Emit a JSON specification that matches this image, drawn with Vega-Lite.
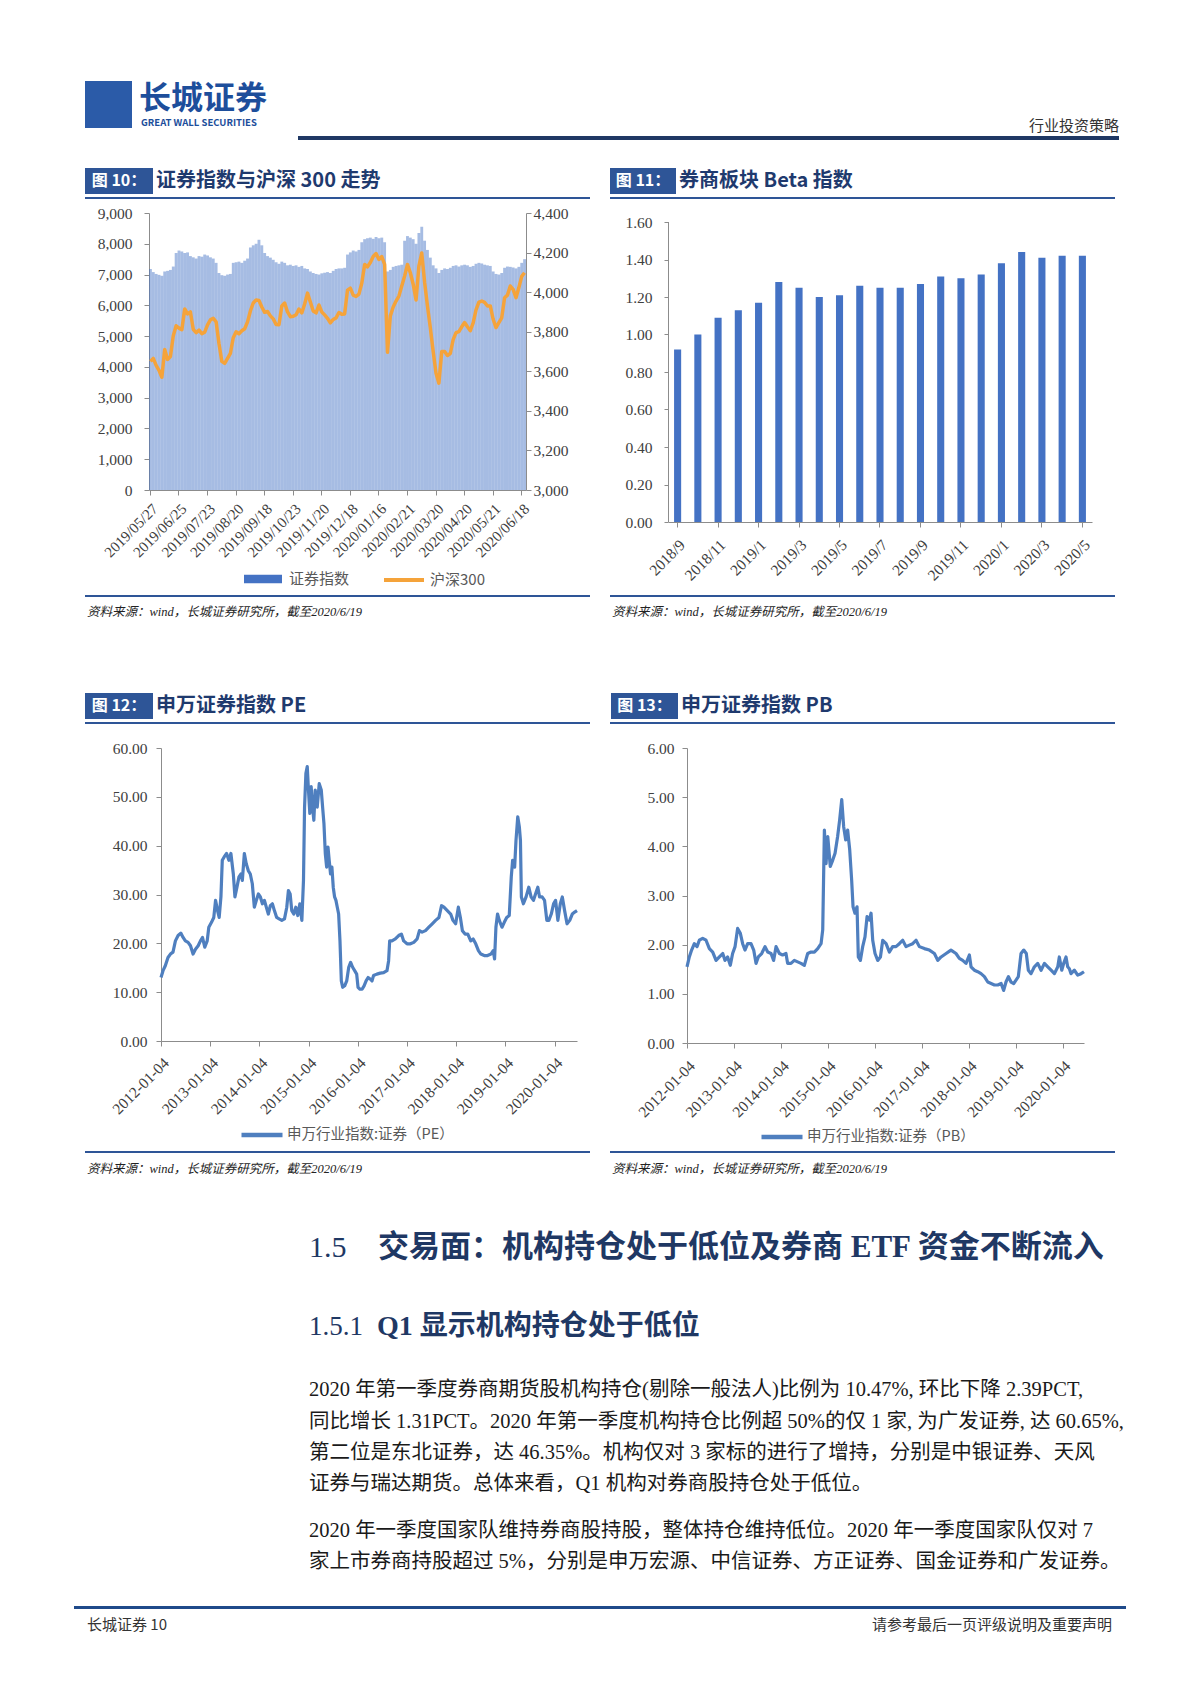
{
"$schema": "https://vega.github.io/schema/vega-lite/v6.json",
"background": "white",
"padding": {"left": 74, "top": 81, "right": 0, "bottom": 0},
"spacing": 0,
"resolve": {"scale": {"fill": "independent", "stroke": "independent"}, "legend": {"fill": "independent", "stroke": "independent"}},
"config": {
  "view": {"stroke": null},
  "concat": {"spacing": 0},
  "axis": {"labelFont": "Liberation Serif", "labelFontSize": 15.5, "labelColor": "#404040", "domainColor": "#8c8c8c", "tickColor": "#8c8c8c", "grid": false, "tickSize": 5, "labelOverlap": false},
  "legend": {"labelFont": "Noto Sans CJK SC", "labelFontSize": 15, "labelColor": "#595959", "padding": 0, "labelLimit": 400},
  "text": {"font": "Noto Sans CJK SC"}
},
"datasets": {
  "c10": [
    {"t":0,"sec":7180,"hs":3650},{"t":2,"sec":7080,"hs":3665},{"t":4,"sec":7020,"hs":3630},{"t":6,"sec":6990,"hs":3605},{"t":8,"sec":6960,"hs":3570},
    {"t":10,"sec":7100,"hs":3710},{"t":12,"sec":7120,"hs":3660},{"t":14,"sec":7150,"hs":3675},{"t":16,"sec":7260,"hs":3780},{"t":18,"sec":7700,"hs":3830},
    {"t":20,"sec":7780,"hs":3818},{"t":22,"sec":7750,"hs":3810},{"t":24,"sec":7700,"hs":3915},{"t":26,"sec":7720,"hs":3890},{"t":28,"sec":7600,"hs":3900},
    {"t":30,"sec":7560,"hs":3812},{"t":32,"sec":7520,"hs":3795},{"t":34,"sec":7600,"hs":3808},{"t":36,"sec":7580,"hs":3790},{"t":38,"sec":7650,"hs":3798},
    {"t":40,"sec":7620,"hs":3835},{"t":42,"sec":7560,"hs":3860},{"t":44,"sec":7520,"hs":3868},{"t":46,"sec":7380,"hs":3850},{"t":48,"sec":7050,"hs":3740},
    {"t":50,"sec":6980,"hs":3650},{"t":52,"sec":6960,"hs":3640},{"t":54,"sec":7000,"hs":3665},{"t":56,"sec":7020,"hs":3690},{"t":58,"sec":7380,"hs":3770},
    {"t":60,"sec":7400,"hs":3800},{"t":62,"sec":7420,"hs":3790},{"t":64,"sec":7380,"hs":3805},{"t":66,"sec":7450,"hs":3815},{"t":68,"sec":7520,"hs":3850},
    {"t":70,"sec":7880,"hs":3905},{"t":72,"sec":7950,"hs":3945},{"t":74,"sec":8000,"hs":3960},{"t":76,"sec":8130,"hs":3958},{"t":78,"sec":7950,"hs":3925},
    {"t":80,"sec":7700,"hs":3898},{"t":82,"sec":7600,"hs":3902},{"t":84,"sec":7550,"hs":3880},{"t":86,"sec":7480,"hs":3865},{"t":88,"sec":7400,"hs":3836},
    {"t":90,"sec":7350,"hs":3835},{"t":92,"sec":7420,"hs":3930},{"t":94,"sec":7380,"hs":3945},{"t":96,"sec":7300,"hs":3900},{"t":98,"sec":7320,"hs":3876},
    {"t":100,"sec":7280,"hs":3878},{"t":102,"sec":7300,"hs":3886},{"t":104,"sec":7250,"hs":3915},{"t":106,"sec":7280,"hs":3895},{"t":108,"sec":7200,"hs":3940},
    {"t":110,"sec":7180,"hs":3995},{"t":112,"sec":7100,"hs":3950},{"t":114,"sec":7050,"hs":3905},{"t":116,"sec":7020,"hs":3895},{"t":118,"sec":7000,"hs":3935},
    {"t":120,"sec":7040,"hs":3900},{"t":122,"sec":7060,"hs":3885},{"t":124,"sec":7080,"hs":3868},{"t":126,"sec":7050,"hs":3845},{"t":128,"sec":7120,"hs":3862},
    {"t":130,"sec":7180,"hs":3870},{"t":132,"sec":7200,"hs":3897},{"t":134,"sec":7200,"hs":3888},{"t":136,"sec":7220,"hs":3890},{"t":138,"sec":7650,"hs":4010},
    {"t":140,"sec":7720,"hs":4020},{"t":142,"sec":7780,"hs":3985},{"t":144,"sec":7750,"hs":3978},{"t":146,"sec":7800,"hs":3990},{"t":148,"sec":8050,"hs":4045},
    {"t":150,"sec":8150,"hs":4140},{"t":152,"sec":8180,"hs":4128},{"t":154,"sec":8200,"hs":4150},{"t":156,"sec":8160,"hs":4180},{"t":158,"sec":8220,"hs":4195},
    {"t":160,"sec":8180,"hs":4165},{"t":162,"sec":8200,"hs":4180},{"t":164,"sec":8050,"hs":4140},{"t":166,"sec":7100,"hs":3696},{"t":168,"sec":7150,"hs":3880},
    {"t":170,"sec":7250,"hs":3925},{"t":172,"sec":7280,"hs":3955},{"t":174,"sec":7300,"hs":3980},{"t":176,"sec":7320,"hs":4031},{"t":178,"sec":8100,"hs":4081},
    {"t":180,"sec":8250,"hs":4140},{"t":182,"sec":8200,"hs":4098},{"t":184,"sec":8150,"hs":4040},{"t":186,"sec":8000,"hs":3960},{"t":188,"sec":8350,"hs":4131},
    {"t":190,"sec":8550,"hs":4198},{"t":192,"sec":8100,"hs":4050},{"t":194,"sec":7800,"hs":3930},{"t":196,"sec":7550,"hs":3820},{"t":198,"sec":7300,"hs":3700},
    {"t":200,"sec":7200,"hs":3590},{"t":202,"sec":7050,"hs":3540},{"t":204,"sec":7150,"hs":3700},{"t":206,"sec":7200,"hs":3700},{"t":208,"sec":7180,"hs":3680},
    {"t":210,"sec":7220,"hs":3690},{"t":212,"sec":7280,"hs":3760},{"t":214,"sec":7300,"hs":3795},{"t":216,"sec":7260,"hs":3800},{"t":218,"sec":7300,"hs":3825},
    {"t":220,"sec":7320,"hs":3846},{"t":222,"sec":7300,"hs":3825},{"t":224,"sec":7250,"hs":3805},{"t":226,"sec":7280,"hs":3845},{"t":228,"sec":7350,"hs":3910},
    {"t":230,"sec":7380,"hs":3950},{"t":232,"sec":7360,"hs":3955},{"t":234,"sec":7320,"hs":3948},{"t":236,"sec":7300,"hs":3930},{"t":238,"sec":7280,"hs":3930},
    {"t":240,"sec":7100,"hs":3863},{"t":242,"sec":7020,"hs":3821},{"t":244,"sec":7000,"hs":3846},{"t":246,"sec":7050,"hs":3870},{"t":248,"sec":7220,"hs":3972},
    {"t":250,"sec":7260,"hs":3985},{"t":252,"sec":7250,"hs":4031},{"t":254,"sec":7230,"hs":4014},{"t":256,"sec":7200,"hs":3972},{"t":258,"sec":7250,"hs":4023},
    {"t":260,"sec":7380,"hs":4080},{"t":261,"sec":7500,"hs":4098}
  ],
  "c11": [
    {"m":"2018/9","beta":0.92},{"m":"2018/10","beta":1.00},{"m":"2018/11","beta":1.09},{"m":"2018/12","beta":1.13},
    {"m":"2019/1","beta":1.17},{"m":"2019/2","beta":1.28},{"m":"2019/3","beta":1.25},{"m":"2019/4","beta":1.20},
    {"m":"2019/5","beta":1.21},{"m":"2019/6","beta":1.26},{"m":"2019/7","beta":1.25},{"m":"2019/8","beta":1.25},
    {"m":"2019/9","beta":1.27},{"m":"2019/10","beta":1.31},{"m":"2019/11","beta":1.30},{"m":"2019/12","beta":1.32},
    {"m":"2020/1","beta":1.38},{"m":"2020/2","beta":1.44},{"m":"2020/3","beta":1.41},{"m":"2020/4","beta":1.42},{"m":"2020/5","beta":1.42}
  ],
  "pe": [
    {"d":"2012-01-04","pe":13.0},{"d":"2012-01-19","pe":14.4},{"d":"2012-02-05","pe":15.4},{"d":"2012-02-25","pe":17.1},{"d":"2012-03-14","pe":17.8},{"d":"2012-04-02","pe":18.2},{"d":"2012-04-20","pe":20.5},{"d":"2012-05-10","pe":21.6},{"d":"2012-05-30","pe":22.1},{"d":"2012-06-16","pe":21.2},{"d":"2012-07-03","pe":20.5},{"d":"2012-07-23","pe":20.2},{"d":"2012-08-10","pe":19.5},{"d":"2012-08-29","pe":17.8},{"d":"2012-09-16","pe":18.8},{"d":"2012-10-06","pe":19.5},{"d":"2012-10-23","pe":20.5},{"d":"2012-11-07","pe":21.2},{"d":"2012-11-24","pe":19.2},{"d":"2012-12-12","pe":20.5},{"d":"2012-12-24","pe":23.3},
    {"d":"2013-01-13","pe":24.3},{"d":"2013-01-30","pe":25.3},{"d":"2013-02-12","pe":28.8},{"d":"2013-02-27","pe":26.7},{"d":"2013-03-11","pe":25.3},{"d":"2013-03-24","pe":29.5},{"d":"2013-04-03","pe":37.0},{"d":"2013-04-17","pe":37.7},{"d":"2013-05-05","pe":38.4},{"d":"2013-05-22","pe":37.0},{"d":"2013-06-06","pe":38.4},{"d":"2013-06-24","pe":34.2},{"d":"2013-07-06","pe":29.5},{"d":"2013-07-21","pe":31.5},{"d":"2013-08-05","pe":33.6},{"d":"2013-08-20","pe":34.2},{"d":"2013-08-30","pe":32.9},{"d":"2013-09-14","pe":38.4},{"d":"2013-09-28","pe":36.3},{"d":"2013-10-13","pe":34.9},{"d":"2013-10-28","pe":34.2},{"d":"2013-11-12","pe":32.2},{"d":"2013-11-27","pe":27.4},{"d":"2013-12-12","pe":28.8},{"d":"2013-12-27","pe":30.1},
    {"d":"2014-01-11","pe":29.5},{"d":"2014-01-26","pe":28.1},{"d":"2014-02-10","pe":28.8},{"d":"2014-02-24","pe":27.4},{"d":"2014-03-11","pe":26.0},{"d":"2014-03-26","pe":27.7},{"d":"2014-04-10","pe":28.1},{"d":"2014-04-25","pe":26.7},{"d":"2014-05-12","pe":25.3},{"d":"2014-05-30","pe":25.0},{"d":"2014-06-19","pe":24.7},{"d":"2014-07-09","pe":25.0},{"d":"2014-07-26","pe":27.4},{"d":"2014-08-07","pe":30.8},{"d":"2014-08-20","pe":30.1},{"d":"2014-09-01","pe":26.7},{"d":"2014-09-16","pe":26.0},{"d":"2014-10-01","pe":27.4},{"d":"2014-10-16","pe":25.7},{"d":"2014-10-31","pe":28.1},{"d":"2014-11-15","pe":24.7},{"d":"2014-11-27","pe":32.9},{"d":"2014-12-05","pe":47.9},{"d":"2014-12-15","pe":54.8},{"d":"2014-12-25","pe":56.2},
    {"d":"2015-01-03","pe":51.4},{"d":"2015-01-13","pe":46.6},{"d":"2015-01-23","pe":52.1},{"d":"2015-02-02","pe":47.9},{"d":"2015-02-12","pe":45.2},{"d":"2015-02-22","pe":51.4},{"d":"2015-03-09","pe":47.9},{"d":"2015-03-24","pe":52.7},{"d":"2015-04-08","pe":51.4},{"d":"2015-04-18","pe":47.9},{"d":"2015-04-28","pe":44.5},{"d":"2015-05-08","pe":38.4},{"d":"2015-05-18","pe":35.6},{"d":"2015-05-28","pe":39.7},{"d":"2015-06-06","pe":37.0},{"d":"2015-06-16","pe":34.2},{"d":"2015-06-26","pe":35.6},{"d":"2015-07-06","pe":31.5},{"d":"2015-07-16","pe":29.5},{"d":"2015-07-26","pe":28.8},{"d":"2015-08-05","pe":27.4},{"d":"2015-08-15","pe":26.0},{"d":"2015-08-25","pe":20.5},{"d":"2015-09-04","pe":12.3},{"d":"2015-09-14","pe":11.0},{"d":"2015-09-29","pe":11.3},{"d":"2015-10-14","pe":12.3},{"d":"2015-10-29","pe":15.1},{"d":"2015-11-12","pe":16.1},{"d":"2015-11-27","pe":15.1},{"d":"2015-12-12","pe":14.4},{"d":"2015-12-27","pe":13.7},
    {"d":"2016-01-06","pe":11.0},{"d":"2016-01-21","pe":10.6},{"d":"2016-02-05","pe":10.6},{"d":"2016-02-20","pe":11.3},{"d":"2016-03-06","pe":12.3},{"d":"2016-03-21","pe":13.0},{"d":"2016-04-05","pe":12.7},{"d":"2016-04-19","pe":12.3},{"d":"2016-04-30","pe":13.4},{"d":"2016-05-25","pe":13.7},{"d":"2016-06-19","pe":13.9},{"d":"2016-07-14","pe":14.0},{"d":"2016-08-08","pe":14.4},{"d":"2016-08-20","pe":16.4},{"d":"2016-08-28","pe":20.5},{"d":"2016-09-14","pe":20.5},{"d":"2016-10-09","pe":20.9},{"d":"2016-11-03","pe":21.6},{"d":"2016-11-23","pe":21.9},{"d":"2016-12-10","pe":20.5},
    {"d":"2017-01-04","pe":19.9},{"d":"2017-01-29","pe":19.9},{"d":"2017-02-23","pe":20.2},{"d":"2017-03-20","pe":20.9},{"d":"2017-04-06","pe":22.6},{"d":"2017-04-26","pe":22.3},{"d":"2017-05-21","pe":22.6},{"d":"2017-06-15","pe":23.3},{"d":"2017-07-10","pe":24.0},{"d":"2017-08-04","pe":24.7},{"d":"2017-08-29","pe":25.3},{"d":"2017-09-17","pe":27.7},{"d":"2017-10-05","pe":27.4},{"d":"2017-10-30","pe":26.7},{"d":"2017-11-24","pe":26.0},{"d":"2017-12-11","pe":24.7},{"d":"2017-12-31","pe":24.0},
    {"d":"2018-01-20","pe":27.4},{"d":"2018-02-04","pe":25.3},{"d":"2018-02-19","pe":22.6},{"d":"2018-03-11","pe":21.9},{"d":"2018-03-31","pe":21.9},{"d":"2018-04-22","pe":20.5},{"d":"2018-05-10","pe":20.9},{"d":"2018-05-29","pe":19.9},{"d":"2018-06-18","pe":18.5},{"d":"2018-07-06","pe":17.8},{"d":"2018-07-31","pe":17.5},{"d":"2018-08-25","pe":17.5},{"d":"2018-09-19","pe":17.8},{"d":"2018-10-06","pe":18.5},{"d":"2018-10-16","pe":16.8},{"d":"2018-10-26","pe":23.3},{"d":"2018-11-07","pe":26.0},{"d":"2018-11-20","pe":24.7},{"d":"2018-12-10","pe":23.3},{"d":"2018-12-27","pe":24.3},
    {"d":"2019-01-14","pe":25.3},{"d":"2019-02-02","pe":25.7},{"d":"2019-02-17","pe":33.6},{"d":"2019-02-27","pe":37.0},{"d":"2019-03-14","pe":35.6},{"d":"2019-03-24","pe":41.1},{"d":"2019-04-06","pe":45.9},{"d":"2019-04-18","pe":43.8},{"d":"2019-04-26","pe":41.1},{"d":"2019-05-03","pe":29.5},{"d":"2019-05-18","pe":28.1},{"d":"2019-06-07","pe":29.5},{"d":"2019-06-27","pe":31.5},{"d":"2019-07-14","pe":29.5},{"d":"2019-08-01","pe":28.8},{"d":"2019-08-16","pe":30.1},{"d":"2019-09-02","pe":31.5},{"d":"2019-09-15","pe":29.5},{"d":"2019-10-04","pe":29.5},{"d":"2019-10-22","pe":28.8},{"d":"2019-11-08","pe":24.7},{"d":"2019-11-23","pe":24.7},{"d":"2019-12-11","pe":26.0},{"d":"2019-12-28","pe":28.1},
    {"d":"2020-01-12","pe":28.8},{"d":"2020-01-29","pe":24.7},{"d":"2020-02-16","pe":28.1},{"d":"2020-03-02","pe":29.5},{"d":"2020-03-19","pe":26.7},{"d":"2020-04-06","pe":24.0},{"d":"2020-04-26","pe":24.7},{"d":"2020-05-15","pe":26.0},{"d":"2020-06-02","pe":26.4},{"d":"2020-06-19","pe":26.7}
  ],
  "pb": [
    {"d":"2012-01-04","pb":1.55},{"d":"2012-01-22","pb":1.75},{"d":"2012-02-09","pb":1.89},{"d":"2012-03-01","pb":2.02},{"d":"2012-03-22","pb":1.96},{"d":"2012-04-09","pb":2.09},{"d":"2012-05-05","pb":2.13},{"d":"2012-05-31","pb":2.09},{"d":"2012-06-26","pb":1.92},{"d":"2012-07-22","pb":1.85},{"d":"2012-08-17","pb":1.68},{"d":"2012-09-12","pb":1.75},{"d":"2012-10-08","pb":1.82},{"d":"2012-10-26","pb":1.68},{"d":"2012-11-15","pb":1.75},{"d":"2012-12-06","pb":1.58},{"d":"2012-12-24","pb":1.82},
    {"d":"2013-01-12","pb":1.96},{"d":"2013-02-01","pb":2.33},{"d":"2013-02-22","pb":2.23},{"d":"2013-03-12","pb":2.02},{"d":"2013-03-30","pb":1.89},{"d":"2013-04-20","pb":2.02},{"d":"2013-05-16","pb":2.02},{"d":"2013-06-06","pb":1.89},{"d":"2013-06-24","pb":1.62},{"d":"2013-07-12","pb":1.75},{"d":"2013-08-07","pb":1.82},{"d":"2013-09-02","pb":1.96},{"d":"2013-09-23","pb":1.85},{"d":"2013-10-19","pb":1.82},{"d":"2013-11-08","pb":1.68},{"d":"2013-11-27","pb":1.96},{"d":"2013-12-23","pb":1.82},
    {"d":"2014-01-17","pb":1.79},{"d":"2014-02-12","pb":1.82},{"d":"2014-02-25","pb":1.62},{"d":"2014-03-23","pb":1.62},{"d":"2014-04-18","pb":1.68},{"d":"2014-05-14","pb":1.65},{"d":"2014-06-09","pb":1.62},{"d":"2014-07-05","pb":1.58},{"d":"2014-07-31","pb":1.82},{"d":"2014-08-26","pb":1.85},{"d":"2014-09-21","pb":1.85},{"d":"2014-10-17","pb":1.92},{"d":"2014-11-12","pb":2.02},{"d":"2014-11-25","pb":2.30},{"d":"2014-12-08","pb":4.33},{"d":"2014-12-21","pb":3.65},
    {"d":"2015-01-03","pb":4.20},{"d":"2015-01-23","pb":3.59},{"d":"2015-02-11","pb":3.72},{"d":"2015-03-01","pb":3.86},{"d":"2015-03-21","pb":4.20},{"d":"2015-04-06","pb":4.54},{"d":"2015-04-22","pb":4.95},{"d":"2015-05-07","pb":4.40},{"d":"2015-05-23","pb":4.13},{"d":"2015-06-07","pb":4.33},{"d":"2015-06-23","pb":3.93},{"d":"2015-07-08","pb":3.32},{"d":"2015-07-19","pb":2.77},{"d":"2015-08-03","pb":2.64},{"d":"2015-08-19","pb":2.77},{"d":"2015-08-29","pb":1.75},{"d":"2015-09-14","pb":1.68},{"d":"2015-10-02","pb":1.96},{"d":"2015-10-20","pb":2.16},{"d":"2015-11-05","pb":2.57},{"d":"2015-11-23","pb":2.50},{"d":"2015-12-06","pb":2.64},{"d":"2015-12-19","pb":2.09},
    {"d":"2016-01-06","pb":1.82},{"d":"2016-01-27","pb":1.68},{"d":"2016-02-17","pb":1.75},{"d":"2016-03-06","pb":2.09},{"d":"2016-04-01","pb":2.02},{"d":"2016-04-27","pb":1.85},{"d":"2016-05-22","pb":1.96},{"d":"2016-06-17","pb":1.96},{"d":"2016-07-13","pb":2.02},{"d":"2016-08-08","pb":2.09},{"d":"2016-09-03","pb":1.96},{"d":"2016-09-29","pb":1.99},{"d":"2016-10-25","pb":2.02},{"d":"2016-11-20","pb":2.09},{"d":"2016-12-16","pb":1.96},
    {"d":"2017-01-24","pb":1.92},{"d":"2017-03-04","pb":1.89},{"d":"2017-04-12","pb":1.82},{"d":"2017-05-08","pb":1.68},{"d":"2017-06-03","pb":1.75},{"d":"2017-07-12","pb":1.82},{"d":"2017-08-19","pb":1.89},{"d":"2017-09-27","pb":1.82},{"d":"2017-10-23","pb":1.72},{"d":"2017-11-18","pb":1.68},{"d":"2017-12-14","pb":1.62},
    {"d":"2018-01-09","pb":1.79},{"d":"2018-01-22","pb":1.55},{"d":"2018-02-17","pb":1.48},{"d":"2018-03-15","pb":1.45},{"d":"2018-04-10","pb":1.41},{"d":"2018-05-06","pb":1.35},{"d":"2018-06-01","pb":1.24},{"d":"2018-06-27","pb":1.21},{"d":"2018-07-23","pb":1.18},{"d":"2018-08-18","pb":1.18},{"d":"2018-09-13","pb":1.21},{"d":"2018-10-03","pb":1.07},{"d":"2018-10-21","pb":1.24},{"d":"2018-11-09","pb":1.35},{"d":"2018-11-29","pb":1.24},{"d":"2018-12-20","pb":1.21},
    {"d":"2019-01-07","pb":1.28},{"d":"2019-01-25","pb":1.35},{"d":"2019-02-15","pb":1.82},{"d":"2019-03-08","pb":1.89},{"d":"2019-03-28","pb":1.82},{"d":"2019-04-13","pb":1.48},{"d":"2019-05-04","pb":1.41},{"d":"2019-05-30","pb":1.55},{"d":"2019-06-25","pb":1.62},{"d":"2019-07-21","pb":1.48},{"d":"2019-08-16","pb":1.62},{"d":"2019-09-11","pb":1.55},{"d":"2019-10-07","pb":1.48},{"d":"2019-11-02","pb":1.41},{"d":"2019-11-28","pb":1.55},{"d":"2019-12-10","pb":1.75},{"d":"2019-12-29","pb":1.48},
    {"d":"2020-01-13","pb":1.62},{"d":"2020-01-31","pb":1.75},{"d":"2020-02-13","pb":1.55},{"d":"2020-02-26","pb":1.51},{"d":"2020-03-10","pb":1.41},{"d":"2020-04-05","pb":1.48},{"d":"2020-05-01","pb":1.38},{"d":"2020-05-27","pb":1.41},{"d":"2020-06-19","pb":1.45}
  ]
},
"vconcat": [
  {
    "width": 1052, "height": 61,
    "layer": [
      {"data": {"values": [{"k": "frame"}]}, "mark": {"type": "rect", "fill": "white", "opacity": 0}, "encoding": {"x": {"value": 0}, "x2": {"value": "width"}, "y": {"value": 0}, "y2": {"value": "height"}}},
      {"data": {"values": [{"k": "logo"}]}, "mark": {"type": "rect", "fill": "#2b5ba8"}, "encoding": {"x": {"value": 11}, "x2": {"value": 58}, "y": {"value": 0}, "y2": {"value": 47}}},
      {"data": {"values": [{"s": "长城证券"}]}, "mark": {"type": "text", "align": "left", "baseline": "middle", "fontSize": 32, "fontWeight": "bold", "color": "#1d4e9b"}, "encoding": {"x": {"value": 65}, "y": {"value": 18}, "text": {"field": "s"}}},
      {"data": {"values": [{"s": "GREAT WALL SECURITIES"}]}, "mark": {"type": "text", "align": "left", "baseline": "middle", "fontSize": 9.5, "fontWeight": "bold", "color": "#1d4e9b"}, "encoding": {"x": {"value": 67}, "y": {"value": 42}, "text": {"field": "s"}}},
      {"data": {"values": [{"s": "行业投资策略"}]}, "mark": {"type": "text", "align": "right", "baseline": "middle", "fontSize": 15, "color": "#333333"}, "encoding": {"x": {"value": 1045}, "y": {"value": 45}, "text": {"field": "s"}}},
      {"data": {"values": [{"k": "rule"}]}, "mark": {"type": "rect", "fill": "#1f3864"}, "encoding": {"x": {"value": 224}, "x2": {"value": 1045}, "y": {"value": 55}, "y2": {"value": 59}}}
    ]
  },
  {
    "spacing": 0,
    "resolve": {"scale": {"fill": "independent", "stroke": "independent"}, "legend": {"fill": "independent", "stroke": "independent"}},
    "hconcat": [
      {
        "width": 11, "height": 1,
        "data": {"values": [{"k": "spacer"}]},
        "mark": {"type": "rect", "fill": "white", "opacity": 0},
        "encoding": {"x": {"value": 0}, "x2": {"value": "width"}, "y": {"value": 0}, "y2": {"value": "height"}}
      },
      {
        "width": 377, "height": 277,
        "layer": [
          {"data": {"values": [{"k": "frame"}]}, "mark": {"type": "rect", "fill": "white", "opacity": 0}, "encoding": {"x": {"value": -64}, "x2": {"value": 441}, "y": {"value": -71}, "y2": {"value": 409}}},
          {"data": {"values": [{"k": "box"}]}, "mark": {"type": "rect", "fill": "#2e5597"}, "encoding": {"x": {"value": -64}, "x2": {"value": 4}, "y": {"value": -45}, "y2": {"value": -19}}},
          {"data": {"values": [{"s": "图 10："}]}, "mark": {"type": "text", "align": "center", "baseline": "middle", "fontSize": 16, "fontWeight": "bold", "color": "white"}, "encoding": {"x": {"value": -30}, "y": {"value": -32}, "text": {"field": "s"}}},
          {"data": {"values": [{"s": "证券指数与沪深 300 走势"}]}, "mark": {"type": "text", "align": "left", "baseline": "middle", "fontSize": 20, "fontWeight": "bold", "color": "#1f3a6e"}, "encoding": {"x": {"value": 7}, "y": {"value": -32}, "text": {"field": "s"}}},
          {"data": {"values": [{"k": "underline"}]}, "mark": {"type": "rect", "fill": "#2e5597"}, "encoding": {"x": {"value": -64}, "x2": {"value": 441}, "y": {"value": -16}, "y2": {"value": -14}}},
          {"data": {"values": [{"k": "srcline"}]}, "mark": {"type": "rect", "fill": "#2e5597"}, "encoding": {"x": {"value": -64}, "x2": {"value": 441}, "y": {"value": 382}, "y2": {"value": 384}}},
          {"data": {"values": [{"s": "资料来源：wind，长城证券研究所，截至2020/6/19"}]}, "mark": {"type": "text", "align": "left", "baseline": "middle", "fontSize": 12.5, "fontStyle": "italic", "font": "Liberation Serif, Noto Sans CJK SC", "color": "#222222"}, "encoding": {"x": {"value": -62}, "y": {"value": 399}, "text": {"field": "s"}}},
          {
            "data": {"name": "c10"},
            "mark": {"type": "bar", "fillOpacity": 0.48},
            "encoding": {
              "x": {"field": "t", "type": "ordinal", "title": null, "scale": {"paddingInner": 0, "paddingOuter": 0},
                    "axis": {"values": [0,20,40,60,80,100,120,140,160,180,200,220,240,260], "labelExpr": "['2019/05/27','2019/06/25','2019/07/23','2019/08/20','2019/09/18','2019/10/23','2019/11/20','2019/12/18','2020/01/16','2020/02/21','2020/03/20','2020/04/20','2020/05/21','2020/06/18'][floor(datum.value/20)]", "labelAngle": -45, "labelPadding": 6, "labelFontSize": 15}},
              "y": {"field": "sec", "type": "quantitative", "title": null, "scale": {"domain": [0, 9000], "nice": false},
                    "axis": {"values": [0,1000,2000,3000,4000,5000,6000,7000,8000,9000], "format": ",.0f", "labelPadding": 12}},
              "fill": {"datum": "证券指数", "type": "nominal", "scale": {"range": ["#4472c4"]},
                       "legend": {"orient": "none", "legendX": 94, "legendY": 346, "symbolType": "M-1,-0.22H1V0.22H-1Z", "symbolSize": 1444, "labelOffset": 6, "title": null}}
            }
          },
          {
            "data": {"name": "c10"},
            "mark": {"type": "line", "strokeWidth": 3.5, "strokeJoin": "round"},
            "encoding": {
              "x": {"field": "t", "type": "ordinal"},
              "y": {"field": "hs", "type": "quantitative", "title": null, "scale": {"domain": [3000, 4400], "nice": false, "zero": false},
                    "axis": {"orient": "right", "values": [3000,3200,3400,3600,3800,4000,4200,4400], "format": ",.0f", "labelPadding": 2}},
              "stroke": {"datum": "沪深300", "type": "nominal", "scale": {"range": ["#f5a33a"]},
                         "legend": {"orient": "none", "legendX": 233, "legendY": 345, "symbolType": "stroke", "symbolSize": 1600, "symbolStrokeWidth": 4, "labelOffset": 4, "title": null}}
            }
          }
        ],
        "resolve": {"scale": {"y": "independent"}}
      },
      {
        "width": 424, "height": 309,
        "resolve": {"axis": {"y": "independent"}},
        "layer": [
          {"data": {"values": [{"k": "frame"}]}, "mark": {"type": "rect", "fill": "white", "opacity": 0}, "encoding": {"x": {"value": -78}, "x2": {"value": 447}, "y": {"value": -71}, "y2": {"value": 409}}},
          {"data": {"values": [{"k": "box"}]}, "mark": {"type": "rect", "fill": "#2e5597"}, "encoding": {"x": {"value": -58}, "x2": {"value": 8}, "y": {"value": -45}, "y2": {"value": -19}}},
          {"data": {"values": [{"s": "图 11："}]}, "mark": {"type": "text", "align": "center", "baseline": "middle", "fontSize": 16, "fontWeight": "bold", "color": "white"}, "encoding": {"x": {"value": -25}, "y": {"value": -32}, "text": {"field": "s"}}},
          {"data": {"values": [{"s": "券商板块 Beta 指数"}]}, "mark": {"type": "text", "align": "left", "baseline": "middle", "fontSize": 20, "fontWeight": "bold", "color": "#1f3a6e"}, "encoding": {"x": {"value": 11}, "y": {"value": -32}, "text": {"field": "s"}}},
          {"data": {"values": [{"k": "underline"}]}, "mark": {"type": "rect", "fill": "#2e5597"}, "encoding": {"x": {"value": -58}, "x2": {"value": 447}, "y": {"value": -16}, "y2": {"value": -14}}},
          {"data": {"values": [{"k": "srcline"}]}, "mark": {"type": "rect", "fill": "#2e5597"}, "encoding": {"x": {"value": -58}, "x2": {"value": 447}, "y": {"value": 382}, "y2": {"value": 384}}},
          {"data": {"values": [{"s": "资料来源：wind，长城证券研究所，截至2020/6/19"}]}, "mark": {"type": "text", "align": "left", "baseline": "middle", "fontSize": 12.5, "fontStyle": "italic", "font": "Liberation Serif, Noto Sans CJK SC", "color": "#222222"}, "encoding": {"x": {"value": -56}, "y": {"value": 399}, "text": {"field": "s"}}},
          {
            "data": {"name": "c11"},
            "mark": {"type": "bar", "color": "#4472c4"},
            "encoding": {
              "x": {"field": "m", "type": "ordinal", "sort": null, "title": null, "scale": {"paddingInner": 0.65, "paddingOuter": 0.3},
                    "axis": {"values": ["2018/9","2018/11","2019/1","2019/3","2019/5","2019/7","2019/9","2019/11","2020/1","2020/3","2020/5"], "labelAngle": -45, "labelPadding": 10}},
              "y": {"field": "beta", "type": "quantitative", "title": null, "scale": {"domain": [0, 1.648], "nice": false},
                    "axis": {"values": [0,0.2,0.4,0.6,0.8,1,1.2,1.4,1.6], "format": ".2f", "labelPadding": 12, "tickSize": 4, "domain": false, "labelOverlap": false}}
            }
          },
          {
            "data": {"values": [{"k": "yaxisline"}]},
            "mark": {"type": "rule", "color": "#8c8c8c", "strokeWidth": 1},
            "encoding": {"x": {"value": 0.5}, "y": {"datum": 0, "type": "quantitative", "axis": null}, "y2": {"datum": 1.6}}
          }
        ]
      }
    ]
  },
  {
    "spacing": 0,
    "resolve": {"scale": {"fill": "independent", "stroke": "independent"}, "legend": {"fill": "independent", "stroke": "independent"}},
    "hconcat": [
      {
        "width": 11, "height": 1,
        "data": {"values": [{"k": "spacer"}]},
        "mark": {"type": "rect", "fill": "white", "opacity": 0},
        "encoding": {"x": {"value": 0}, "x2": {"value": "width"}, "y": {"value": 0}, "y2": {"value": "height"}}
      },
      {
        "width": 416, "height": 293,
        "layer": [
          {"data": {"values": [{"k": "frame"}]}, "mark": {"type": "rect", "fill": "white", "opacity": 0}, "encoding": {"x": {"value": -76}, "x2": {"value": 429}, "y": {"value": -126}, "y2": {"value": 430}}},
          {"data": {"values": [{"k": "box"}]}, "mark": {"type": "rect", "fill": "#2e5597"}, "encoding": {"x": {"value": -76}, "x2": {"value": -8}, "y": {"value": -55}, "y2": {"value": -29}}},
          {"data": {"values": [{"s": "图 12："}]}, "mark": {"type": "text", "align": "center", "baseline": "middle", "fontSize": 16, "fontWeight": "bold", "color": "white"}, "encoding": {"x": {"value": -42}, "y": {"value": -42}, "text": {"field": "s"}}},
          {"data": {"values": [{"s": "申万证券指数 PE"}]}, "mark": {"type": "text", "align": "left", "baseline": "middle", "fontSize": 20, "fontWeight": "bold", "color": "#1f3a6e"}, "encoding": {"x": {"value": -5}, "y": {"value": -42}, "text": {"field": "s"}}},
          {"data": {"values": [{"k": "underline"}]}, "mark": {"type": "rect", "fill": "#2e5597"}, "encoding": {"x": {"value": -76}, "x2": {"value": 429}, "y": {"value": -26}, "y2": {"value": -24}}},
          {"data": {"values": [{"k": "srcline"}]}, "mark": {"type": "rect", "fill": "#2e5597"}, "encoding": {"x": {"value": -76}, "x2": {"value": 429}, "y": {"value": 403}, "y2": {"value": 405}}},
          {"data": {"values": [{"s": "资料来源：wind，长城证券研究所，截至2020/6/19"}]}, "mark": {"type": "text", "align": "left", "baseline": "middle", "fontSize": 12.5, "fontStyle": "italic", "font": "Liberation Serif, Noto Sans CJK SC", "color": "#222222"}, "encoding": {"x": {"value": -74}, "y": {"value": 421}, "text": {"field": "s"}}},
          {
            "data": {"name": "pe"},
            "mark": {"type": "line", "strokeWidth": 3.2, "strokeJoin": "round"},
            "encoding": {
              "x": {"field": "d", "type": "temporal", "title": null,
                    "scale": {"type": "utc", "nice": false, "domain": [{"year": 2012, "month": 1, "date": 4, "utc": true}, {"year": 2020, "month": 6, "date": 19, "utc": true}]},
                    "axis": {"values": [{"year": 2012, "month": 1, "date": 4, "utc": true},{"year": 2013, "month": 1, "date": 4, "utc": true},{"year": 2014, "month": 1, "date": 4, "utc": true},{"year": 2015, "month": 1, "date": 4, "utc": true},{"year": 2016, "month": 1, "date": 4, "utc": true},{"year": 2017, "month": 1, "date": 4, "utc": true},{"year": 2018, "month": 1, "date": 4, "utc": true},{"year": 2019, "month": 1, "date": 4, "utc": true},{"year": 2020, "month": 1, "date": 4, "utc": true}],
                             "format": "%Y-%m-%d", "labelAngle": -45, "labelPadding": 9}},
              "y": {"field": "pe", "type": "quantitative", "title": null, "scale": {"domain": [0, 60], "nice": false},
                    "axis": {"values": [0,10,20,30,40,50,60], "format": ".2f", "labelPadding": 9}},
              "stroke": {"datum": "申万行业指数:证券（PE）", "type": "nominal", "scale": {"range": ["#4f7fbf"]},
                         "legend": {"orient": "none", "legendX": 78, "legendY": 364, "symbolType": "stroke", "symbolSize": 1681, "symbolStrokeWidth": 4.5, "labelOffset": 2, "labelFontSize": 14.5, "labelLimit": 400, "title": null}}
            }
          }
        ]
      },
      {
        "width": 397, "height": 295,
        "layer": [
          {"data": {"values": [{"k": "frame"}]}, "mark": {"type": "rect", "fill": "white", "opacity": 0}, "encoding": {"x": {"value": -97}, "x2": {"value": 428}, "y": {"value": -126}, "y2": {"value": 430}}},
          {"data": {"values": [{"k": "box"}]}, "mark": {"type": "rect", "fill": "#2e5597"}, "encoding": {"x": {"value": -76}, "x2": {"value": -9}, "y": {"value": -55}, "y2": {"value": -29}}},
          {"data": {"values": [{"s": "图 13："}]}, "mark": {"type": "text", "align": "center", "baseline": "middle", "fontSize": 16, "fontWeight": "bold", "color": "white"}, "encoding": {"x": {"value": -42.5}, "y": {"value": -42}, "text": {"field": "s"}}},
          {"data": {"values": [{"s": "申万证券指数 PB"}]}, "mark": {"type": "text", "align": "left", "baseline": "middle", "fontSize": 20, "fontWeight": "bold", "color": "#1f3a6e"}, "encoding": {"x": {"value": -6}, "y": {"value": -42}, "text": {"field": "s"}}},
          {"data": {"values": [{"k": "underline"}]}, "mark": {"type": "rect", "fill": "#2e5597"}, "encoding": {"x": {"value": -77}, "x2": {"value": 428}, "y": {"value": -26}, "y2": {"value": -24}}},
          {"data": {"values": [{"k": "srcline"}]}, "mark": {"type": "rect", "fill": "#2e5597"}, "encoding": {"x": {"value": -77}, "x2": {"value": 428}, "y": {"value": 403}, "y2": {"value": 405}}},
          {"data": {"values": [{"s": "资料来源：wind，长城证券研究所，截至2020/6/19"}]}, "mark": {"type": "text", "align": "left", "baseline": "middle", "fontSize": 12.5, "fontStyle": "italic", "font": "Liberation Serif, Noto Sans CJK SC", "color": "#222222"}, "encoding": {"x": {"value": -75}, "y": {"value": 421}, "text": {"field": "s"}}},
          {
            "data": {"name": "pb"},
            "mark": {"type": "line", "strokeWidth": 3.2, "strokeJoin": "round"},
            "encoding": {
              "x": {"field": "d", "type": "temporal", "title": null,
                    "scale": {"type": "utc", "nice": false, "domain": [{"year": 2012, "month": 1, "date": 4, "utc": true}, {"year": 2020, "month": 6, "date": 19, "utc": true}]},
                    "axis": {"values": [{"year": 2012, "month": 1, "date": 4, "utc": true},{"year": 2013, "month": 1, "date": 4, "utc": true},{"year": 2014, "month": 1, "date": 4, "utc": true},{"year": 2015, "month": 1, "date": 4, "utc": true},{"year": 2016, "month": 1, "date": 4, "utc": true},{"year": 2017, "month": 1, "date": 4, "utc": true},{"year": 2018, "month": 1, "date": 4, "utc": true},{"year": 2019, "month": 1, "date": 4, "utc": true},{"year": 2020, "month": 1, "date": 4, "utc": true}],
                             "format": "%Y-%m-%d", "labelAngle": -45, "labelPadding": 10}},
              "y": {"field": "pb", "type": "quantitative", "title": null, "scale": {"domain": [0, 6], "nice": false},
                    "axis": {"values": [0,1,2,3,4,5,6], "format": ".2f", "labelPadding": 8}},
              "stroke": {"datum": "申万行业指数:证券（PB）", "type": "nominal", "scale": {"range": ["#4f7fbf"]},
                         "legend": {"orient": "none", "legendX": 72, "legendY": 366, "symbolType": "stroke", "symbolSize": 1681, "symbolStrokeWidth": 4.5, "labelOffset": 2, "labelFontSize": 14.5, "labelLimit": 400, "title": null}}
            }
          }
        ]
      }
    ]
  },
  {
    "width": 1052, "height": 463,
    "layer": [
      {"data": {"values": [{"k": "frame"}]}, "mark": {"type": "rect", "fill": "white", "opacity": 0}, "encoding": {"x": {"value": 0}, "x2": {"value": "width"}, "y": {"value": 0}, "y2": {"value": "height"}}},
      {"data": {"values": [{"s": "1.5"}]}, "mark": {"type": "text", "align": "left", "baseline": "middle", "fontSize": 30, "font": "Liberation Serif", "color": "#1f3864"}, "encoding": {"x": {"value": 235}, "y": {"value": 70}, "text": {"field": "s"}}},
      {"data": {"values": [{"s": "交易面：机构持仓处于低位及券商 ETF 资金不断流入"}]}, "mark": {"type": "text", "align": "left", "baseline": "middle", "fontSize": 31, "fontWeight": "bold", "font": "Liberation Serif, Noto Sans CJK SC", "color": "#1f3864"}, "encoding": {"x": {"value": 304}, "y": {"value": 70}, "text": {"field": "s"}}},
      {"data": {"values": [{"s": "1.5.1"}]}, "mark": {"type": "text", "align": "left", "baseline": "middle", "fontSize": 27, "font": "Liberation Serif", "color": "#1f3864"}, "encoding": {"x": {"value": 235}, "y": {"value": 149}, "text": {"field": "s"}}},
      {"data": {"values": [{"s": "Q1 显示机构持仓处于低位"}]}, "mark": {"type": "text", "align": "left", "baseline": "middle", "fontSize": 28, "fontWeight": "bold", "font": "Liberation Serif, Noto Sans CJK SC", "color": "#1f3864"}, "encoding": {"x": {"value": 303}, "y": {"value": 149}, "text": {"field": "s"}}},
      {"data": {"values": [{"s": "2020 年第一季度券商期货股机构持仓(剔除一般法人)比例为 10.47%, 环比下降 2.39PCT,"}]}, "mark": {"type": "text", "align": "left", "baseline": "middle", "fontSize": 20.5, "font": "Liberation Serif, Noto Sans CJK SC", "color": "#1a1a1a"}, "encoding": {"x": {"value": 235}, "y": {"value": 212}, "text": {"field": "s"}}},
      {"data": {"values": [{"s": "同比增长 1.31PCT。2020 年第一季度机构持仓比例超 50%的仅 1 家, 为广发证券, 达 60.65%,"}]}, "mark": {"type": "text", "align": "left", "baseline": "middle", "fontSize": 20.5, "font": "Liberation Serif, Noto Sans CJK SC", "color": "#1a1a1a"}, "encoding": {"x": {"value": 235}, "y": {"value": 243.5}, "text": {"field": "s"}}},
      {"data": {"values": [{"s": "第二位是东北证券，达 46.35%。机构仅对 3 家标的进行了增持，分别是中银证券、天风"}]}, "mark": {"type": "text", "align": "left", "baseline": "middle", "fontSize": 20.5, "font": "Liberation Serif, Noto Sans CJK SC", "color": "#1a1a1a"}, "encoding": {"x": {"value": 235}, "y": {"value": 275}, "text": {"field": "s"}}},
      {"data": {"values": [{"s": "证券与瑞达期货。总体来看，Q1 机构对券商股持仓处于低位。"}]}, "mark": {"type": "text", "align": "left", "baseline": "middle", "fontSize": 20.5, "font": "Liberation Serif, Noto Sans CJK SC", "color": "#1a1a1a"}, "encoding": {"x": {"value": 235}, "y": {"value": 306}, "text": {"field": "s"}}},
      {"data": {"values": [{"s": "2020 年一季度国家队维持券商股持股，整体持仓维持低位。2020 年一季度国家队仅对 7"}]}, "mark": {"type": "text", "align": "left", "baseline": "middle", "fontSize": 20.5, "font": "Liberation Serif, Noto Sans CJK SC", "color": "#1a1a1a"}, "encoding": {"x": {"value": 235}, "y": {"value": 353}, "text": {"field": "s"}}},
      {"data": {"values": [{"s": "家上市券商持股超过 5%，分别是申万宏源、中信证券、方正证券、国金证券和广发证券。"}]}, "mark": {"type": "text", "align": "left", "baseline": "middle", "fontSize": 20.5, "font": "Liberation Serif, Noto Sans CJK SC", "color": "#1a1a1a"}, "encoding": {"x": {"value": 235}, "y": {"value": 384}, "text": {"field": "s"}}},
      {"data": {"values": [{"k": "footrule"}]}, "mark": {"type": "rect", "fill": "#1f4a8a"}, "encoding": {"x": {"value": 0}, "x2": {"value": "width"}, "y": {"value": 428}, "y2": {"value": 431}}},
      {"data": {"values": [{"s": "长城证券 10"}]}, "mark": {"type": "text", "align": "left", "baseline": "middle", "fontSize": 15, "color": "#333333"}, "encoding": {"x": {"value": 13}, "y": {"value": 447}, "text": {"field": "s"}}},
      {"data": {"values": [{"s": "请参考最后一页评级说明及重要声明"}]}, "mark": {"type": "text", "align": "right", "baseline": "middle", "fontSize": 15, "color": "#333333"}, "encoding": {"x": {"value": 1038}, "y": {"value": 447}, "text": {"field": "s"}}}
    ]
  }
]
}
